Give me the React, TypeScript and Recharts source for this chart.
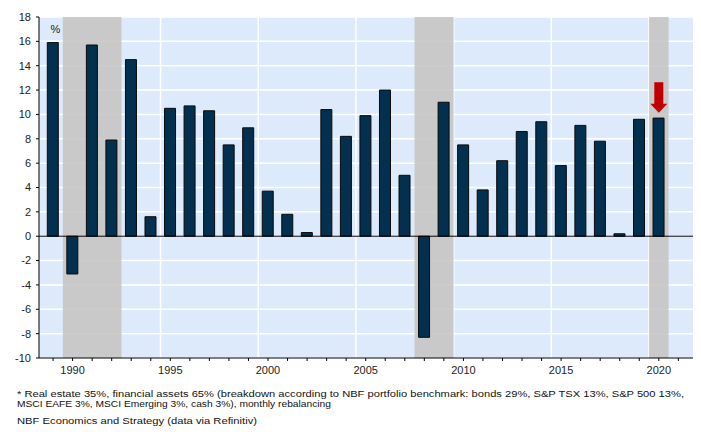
import React from 'react';
import {
  BarChart,
  Bar,
  XAxis,
  YAxis,
  CartesianGrid,
  ReferenceArea,
  ReferenceLine,
  ReferenceDot,
} from 'recharts';

const years = [
  1989, 1990, 1991, 1992, 1993, 1994, 1995, 1996, 1997, 1998, 1999, 2000, 2001, 2002, 2003, 2004,
  2005, 2006, 2007, 2008, 2009, 2010, 2011, 2012, 2013, 2014, 2015, 2016, 2017, 2018, 2019, 2020,
];
const returns = [
  15.9, -3.1, 15.7, 7.9, 14.5, 1.6, 10.5, 10.7, 10.3, 7.5, 8.9, 3.7, 1.8, 0.3, 10.4, 8.2,
  9.9, 12.0, 5.0, -8.3, 11.0, 7.5, 3.8, 6.2, 8.6, 9.4, 5.8, 9.1, 7.8, 0.2, 9.6, 9.7,
];
const recessions: [number, number][] = [
  [1990, 1993],
  [2008, 2010],
  [2020, 2021],
];
const yTicks = [-10, -8, -6, -4, -2, 0, 2, 4, 6, 8, 10, 12, 14, 16, 18];
const gridYears = [1995, 2000, 2005, 2010, 2015, 2020];
const arrowYear = 2020;
const arrowTop = 12.65;

const footnotes = [
  '* Real estate 35%, financial assets 65% (breakdown according to NBF portfolio benchmark: bonds 29%, S&P TSX 13%, S&P 500 13%,',
  'MSCI EAFE 3%, MSCI Emerging 3%, cash 3%), monthly rebalancing',
];
const source = 'NBF Economics and Strategy (data via Refinitiv)';

// bars sit in the middle of each calendar year
const data = years.map((y, i) => ({ x: y + 0.5, value: returns[i] }));
const xTicks = [...years, 2021].map(y => y + 0.5);

const FONT = '"Liberation Sans", Arial, sans-serif';

const Arrow = (props: any) => {
  const { cx, cy } = props;
  if (cx == null || cy == null) return <g />;
  const d = `M${cx - 4.5},${cy} L${cx + 4.5},${cy} L${cx + 4.5},${cy + 21.5} L${cx + 8.5},${cy + 21.5} L${cx},${cy + 30.5} L${cx - 8.5},${cy + 21.5} L${cx - 4.5},${cy + 21.5} Z`;
  return <path d={d} fill="#C00000" />;
};

const App: React.FC = () => {
  return (
    <div style={{ position: 'absolute', left: 0, top: 0, width: 701, height: 432, background: '#fff', fontFamily: FONT }}>
      <BarChart width={701} height={385} data={data} margin={{ top: 17, right: 8, left: 0, bottom: 2 }}>
        <CartesianGrid
          fill="#DDEAFB"
          stroke="#ffffff"
          strokeWidth={1.5}
          verticalValues={gridYears}
          horizontalValues={yTicks}
        />
        {recessions.map(([a, b]) => (
          <ReferenceArea key={a} x1={a} x2={b} fill="#C6C3C0" fillOpacity={0.85} stroke="none" ifOverflow="hidden" />
        ))}
        <XAxis
          dataKey="x"
          type="number"
          domain={[1988.78, 2022.25]}
          ticks={xTicks}
          interval={0}
          allowDataOverflow
          tickFormatter={(v: number) => ((v - 0.5) % 5 === 0 ? String(v - 0.5) : '')}
          tick={{ fontSize: 11, fill: '#222', fontFamily: FONT }}
          tickSize={3}
          tickMargin={5}
          height={25}
          axisLine={{ stroke: '#000' }}
          tickLine={{ stroke: '#000' }}
        />
        <YAxis
          domain={[-10, 18]}
          ticks={yTicks}
          interval={0}
          width={39}
          tick={{ fontSize: 11, fill: '#222', fontFamily: FONT }}
          tickSize={3}
          tickMargin={5}
          axisLine={{ stroke: '#000' }}
          tickLine={{ stroke: '#000' }}
        />
        <Bar dataKey="value" fill="#02304E" stroke="#0a0a0a" strokeWidth={1} barSize={11} isAnimationActive={false} />
        <ReferenceLine y={0} stroke="#000" strokeWidth={1} />
        <ReferenceDot x={arrowYear + 0.5} y={arrowTop} shape={Arrow} ifOverflow="visible" />
      </BarChart>
      <svg width={701} height={432} style={{ position: 'absolute', left: 0, top: 0, pointerEvents: 'none' }}>
        <text x={55.5} y={33} fontSize={11} fill="#222" textAnchor="middle" fontFamily={FONT}>
          %
        </text>
        <text x={17} y={397} fontSize={9.2} fill="#111" fontFamily={FONT} textLength={667} lengthAdjust="spacingAndGlyphs">
          {footnotes[0]}
        </text>
        <text x={17} y={407} fontSize={9.2} fill="#111" fontFamily={FONT} textLength={314} lengthAdjust="spacingAndGlyphs">
          {footnotes[1]}
        </text>
        <text x={17} y={424} fontSize={9.2} fill="#111" fontFamily={FONT} textLength={240} lengthAdjust="spacingAndGlyphs">
          {source}
        </text>
      </svg>
    </div>
  );
};

export default App;
